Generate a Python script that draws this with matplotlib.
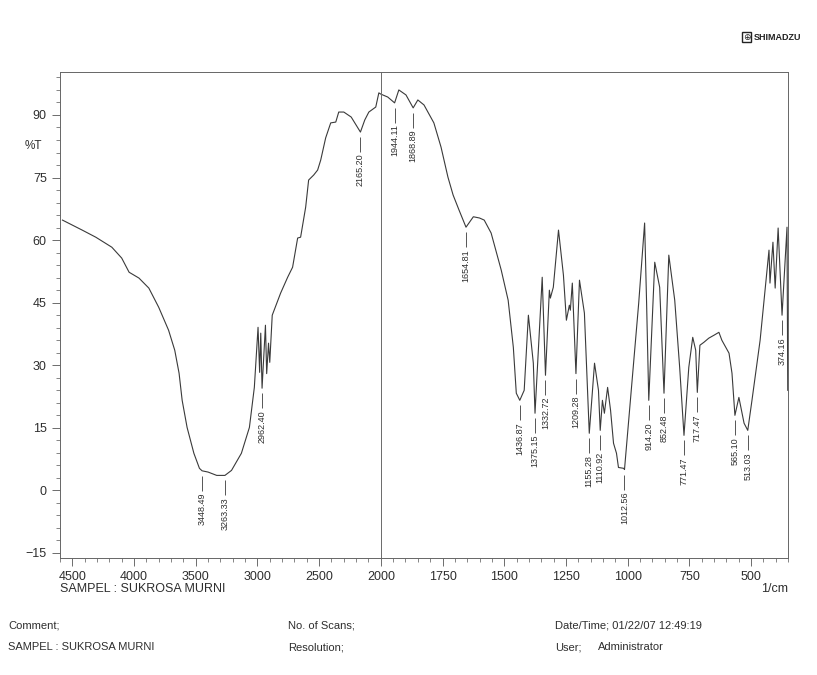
import numpy as np
import matplotlib
matplotlib.use("Agg")
import matplotlib.pyplot as plt
from matplotlib.patches import Rectangle

# ---------------- data ----------------
wavenumber = [
    4580, 4500, 4420, 4310, 4180, 4100, 4040, 3960, 3880, 3800, 3720, 3670,
    3635, 3610, 3570, 3515, 3470, 3448.49, 3400, 3330, 3263.33, 3210, 3130,
    3065, 3025, 2995, 2982, 2973, 2962.40, 2935, 2925, 2910, 2900, 2880,
    2812, 2755, 2715, 2674, 2650, 2609, 2585, 2544, 2512, 2487, 2447, 2406,
    2365, 2341, 2300, 2240, 2165.20, 2130, 2097, 2041, 2016, 2000,
    1972, 1944.11, 1927, 1898, 1868.89, 1850, 1825, 1785, 1756, 1728, 1707,
    1683, 1654.81, 1625, 1600, 1581, 1553, 1512, 1484, 1463, 1451, 1436.87,
    1419, 1402, 1382, 1375.15, 1346, 1332.72, 1317, 1313, 1301, 1280, 1260,
    1248, 1236, 1232, 1224, 1209.28, 1195, 1175, 1155.28, 1134, 1118,
    1110.92, 1102, 1094, 1081, 1069, 1057, 1045, 1037, 1016, 1012.56, 984,
    955, 931, 923, 914.20, 890, 870, 852.48, 833, 809, 789, 771.47, 752,
    736, 724, 717.47, 707, 691, 671, 650, 630, 618, 589, 577, 565.10, 549,
    528, 513.03, 496, 463, 443, 427, 423, 411, 402, 390, 374.16, 354, 351,
]
transmittance = [
    64.8, 63.6, 62.4, 60.7, 58.3, 55.7, 52.3, 50.9, 48.5, 43.9, 38.4, 33.6,
    28.1, 21.6, 15.1, 8.9, 5.3, 4.7, 4.4, 3.6, 3.6, 4.8, 8.9,
    15.1, 24.7, 39.1, 28.3, 37.7, 24.5, 39.6, 28.0, 35.3, 30.7, 42.0,
    47.3, 51.1, 53.5, 60.5, 60.7, 67.9, 74.4, 75.6, 76.8, 79.2, 84.5, 88.1,
    88.3, 90.7, 90.7, 89.5, 85.9, 88.8, 90.7, 91.9, 95.3, 95.0,
    94.3, 92.9, 96.0, 94.8, 91.7, 93.6, 92.4, 88.1, 82.3, 75.1, 70.8,
    67.2, 63.1, 65.6, 65.3, 64.8, 61.7, 52.8, 45.6, 34.3, 23.3, 21.6,
    24.0, 42.0, 30.5, 18.5, 51.1, 27.6, 48.0, 46.1, 48.7, 62.4, 51.6,
    40.8, 44.4, 43.2, 49.7, 28.0, 50.4, 42.5, 13.7, 30.5, 24.0,
    14.4, 21.6, 18.5, 24.7, 19.2, 11.3, 8.9, 5.5, 5.3, 5.0, 24.7,
    44.9, 64.1, 44.9, 21.6, 54.7, 48.7, 23.3, 56.4, 45.6, 29.5, 13.2, 29.5,
    36.7, 33.6, 23.5, 34.8, 35.5, 36.5, 37.2, 37.9, 36.0, 32.9, 28.1, 18.0, 22.3,
    16.1, 14.4, 21.6, 36.0, 48.0, 57.6, 49.7, 59.5, 48.5, 62.9, 42.0, 63.1, 24.0,
]
peak_labels = [3448.49, 3263.33, 2962.40, 2165.20, 1944.11, 1868.89, 1654.81,
               1436.87, 1375.15, 1332.72, 1209.28, 1155.28, 1110.92, 1012.56,
               914.20, 852.48, 771.47, 717.47, 565.10, 513.03, 374.16]
x_major = [4500, 4000, 3500, 3000, 2500, 2000, 1750, 1500, 1250, 1000, 750, 500]
y_major = [-15, 0, 15, 30, 45, 60, 75, 90]

# ---------------- style ----------------
FONT = ['Liberation Sans', 'DejaVu Sans']
plt.rcParams['font.family'] = FONT
INK = '#3a3a3a'
TXT = '#2e2e2e'

def fwd(x):
    x = np.asarray(x, dtype=float)
    return np.where(x >= 2000, x, 2.0 * x - 2000.0)

def inv(u):
    u = np.asarray(u, dtype=float)
    return np.where(u >= 2000, u, (u + 2000.0) / 2.0)

fig = plt.figure(figsize=(8.17, 6.75), dpi=100)
ax = fig.add_axes([60 / 817, 1 - 558 / 675, 728 / 817, 486 / 675])
ax.set_xscale('function', functions=(fwd, inv))
ax.set_xlim(4600, 350)
ax.set_ylim(-16.2, 100.3)

ax.plot(wavenumber, transmittance, color=INK, lw=0.8)
ax.axvline(2000, color='#6a6a6a', lw=0.7)

# peak markers
wn_arr = np.array(wavenumber)
t_arr = np.array(transmittance)
order = np.argsort(wn_arr)
for p in peak_labels:
    tv = np.interp(p, wn_arr[order], t_arr[order])
    top = tv - 1.2
    bot = tv - 4.8
    ax.vlines(p, bot, top, color=INK, lw=0.6)
    ax.text(p, bot - 0.4, f"{p:.2f}", rotation=90, ha='center', va='top',
            fontsize=6.5, color=TXT)

# ticks
ax.set_xticks(x_major)
ax.set_xticklabels([str(v) for v in x_major])
minor_x = list(range(4600, 2000, -100)) + list(range(1950, 349, -50))
ax.set_xticks(minor_x, minor=True)
ax.set_yticks(y_major)
ax.set_yticks(np.arange(-15, 100, 3), minor=True)
ax.tick_params(axis='both', which='major', direction='out', length=6,
               width=0.6, color='#555555', labelsize=9, labelcolor=TXT)
ax.tick_params(axis='both', which='minor', direction='out', length=3,
               width=0.5, color='#555555')
ax.tick_params(axis='x', pad=3)
for s in ax.spines.values():
    s.set_color('#666666')
    s.set_linewidth(0.7)

# texts
fig.text(33 / 817, 1 - 146 / 675, '%T', ha='center', va='center', fontsize=8.5, color=TXT)
fig.text(60 / 817, 1 - 589 / 675, 'SAMPEL : SUKROSA MURNI', ha='left', va='center',
         fontsize=9, color=TXT)
fig.text(788 / 817, 1 - 589 / 675, '1/cm', ha='right', va='center', fontsize=9, color=TXT)

fig.text(8 / 817, 1 - 625 / 675, 'Comment;', ha='left', va='center', fontsize=8, color=TXT)
fig.text(8 / 817, 1 - 647 / 675, 'SAMPEL : SUKROSA MURNI', ha='left', va='center', fontsize=8, color=TXT)
fig.text(288 / 817, 1 - 625 / 675, 'No. of Scans;', ha='left', va='center', fontsize=8, color=TXT)
fig.text(288 / 817, 1 - 647 / 675, 'Resolution;', ha='left', va='center', fontsize=8, color=TXT)
fig.text(555 / 817, 1 - 625 / 675, 'Date/Time; 01/22/07 12:49:19', ha='left', va='center', fontsize=8, color=TXT)
fig.text(555 / 817, 1 - 647 / 675, 'User;', ha='left', va='center', fontsize=8, color=TXT)
fig.text(598 / 817, 1 - 647 / 675, 'Administrator', ha='left', va='center', fontsize=8, color=TXT)

# SHIMADZU logo
fig.patches.append(Rectangle((742 / 817, 1 - 42 / 675), 9 / 817, 10 / 675,
                             transform=fig.transFigure, fill=False,
                             edgecolor='#222222', lw=1.0))
fig.text(746.5 / 817, 1 - 37 / 675, '\u2295', ha='center', va='center', fontsize=6.5,
         color='#222222', family=['DejaVu Sans'])
fig.text(754 / 817, 1 - 37 / 675, 'SHIMADZU', ha='left', va='center', fontsize=6.5,
         fontweight='bold', color='#222222')

fig.savefig('out.png', dpi=100, facecolor='white')
